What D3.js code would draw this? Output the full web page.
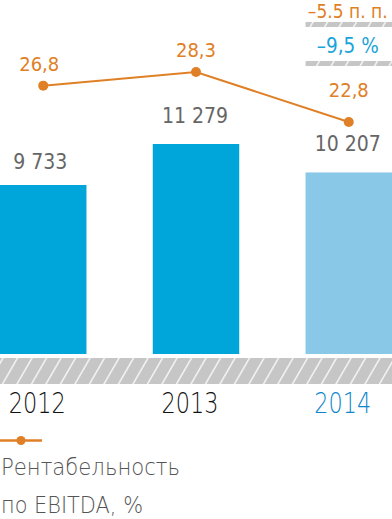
<!DOCTYPE html>
<html>
<head>
<meta charset="utf-8">
<script src="https://cdn.jsdelivr.net/npm/d3@7"></script>
<style>
  html, body { margin: 0; padding: 0; background: #fff; }
  svg { display: block; }
</style>
</head>
<body>
<div id="chart"></div>
<script>
// ---- data ----
const years = ["2012", "2013", "2014"];
const ebitda = [9733, 11279, 10207];
const ebitdaLabels = ["9 733", "11 279", "10 207"];
const margin = [26.8, 28.3, 22.8];
const marginLabels = ["26,8", "28,3", "22,8"];
const changeLabels = ["–5.5 п. п.", "–9,5 %"];
const legendLines = ["Рентабельность", "по EBITDA, %"];

// ---- styles ----
const W = 392, H = 519;
const FONT = "'DejaVu Sans Condensed', 'DejaVu Sans', sans-serif";
const THIN = "'DejaVu Sans', sans-serif";
const ORANGE = "#E08026";
const BLUE = "#00A6DA";
const LIGHTBLUE = "#8AC8E8";
const BLUE_TEXT = "#0E86CC";
const GRAY_TEXT = "#666666";
const HATCH = "#C6C6C6";

const svg = d3.select("#chart").append("svg")
  .attr("width", W).attr("height", H);

// hatch pattern
const defs = svg.append("defs");
const pat = defs.append("pattern")
  .attr("id", "hatch")
  .attr("patternUnits", "userSpaceOnUse")
  .attr("width", 14.5).attr("height", 30)
  .attr("patternTransform", "skewX(-30)");
pat.append("rect").attr("width", 14.5).attr("height", 30).attr("fill", HATCH);
pat.append("rect").attr("x", 6).attr("width", 1.4).attr("height", 30).attr("fill", "#ffffff");

// scales
const x = d3.scaleBand().domain(years).range([0, W]).paddingInner(0.434).paddingOuter(0);
const y = d3.scaleLinear().domain([3361, 11279]).range([354, 144]);
const yLine = d3.scaleLinear().domain([22.8, 28.3]).range([122, 72]);
const cx = d => x(d) + x.bandwidth() / 2;

// bars
svg.append("g").selectAll("rect")
  .data(years)
  .join("rect")
  .attr("x", d => x(d))
  .attr("width", x.bandwidth())
  .attr("y", (d, i) => y(ebitda[i]))
  .attr("height", (d, i) => y(3361) - y(ebitda[i]))
  .attr("fill", (d, i) => i === years.length - 1 ? LIGHTBLUE : BLUE);

// bar value labels
svg.append("g").selectAll("text")
  .data(years)
  .join("text")
  .attr("x", (d, i) => cx(d) - (i === 0 ? 3 : 1))
  .attr("y", (d, i) => y(ebitda[i]) - (i === 0 ? 16 : 21))
  .attr("text-anchor", "middle")
  .attr("font-family", FONT)
  .attr("font-size", 21)
  .attr("fill", GRAY_TEXT)
  .text((d, i) => ebitdaLabels[i]);

// hatched baseline band
svg.append("rect")
  .attr("x", 0).attr("y", 358).attr("width", W).attr("height", 26)
  .attr("fill", "url(#hatch)");

// year labels
svg.append("g").selectAll("text")
  .data(years)
  .join("text")
  .attr("x", d => cx(d) - 6)
  .attr("y", 413)
  .attr("text-anchor", "middle")
  .attr("font-family", THIN)
  .attr("font-size", 29)
  .attr("font-weight", 200)
  .attr("textLength", 57)
  .attr("lengthAdjust", "spacingAndGlyphs")
  .attr("fill", (d, i) => i === years.length - 1 ? BLUE_TEXT : "#111111")
  .text(d => d);

// line
const line = d3.line()
  .x((d, i) => cx(years[i]))
  .y(d => yLine(d));
svg.append("path")
  .datum(margin)
  .attr("d", line)
  .attr("fill", "none")
  .attr("stroke", ORANGE)
  .attr("stroke-width", 2);
svg.append("g").selectAll("circle")
  .data(margin)
  .join("circle")
  .attr("cx", (d, i) => cx(years[i]))
  .attr("cy", d => yLine(d))
  .attr("r", 5)
  .attr("fill", ORANGE);
svg.append("g").selectAll("text")
  .data(margin)
  .join("text")
  .attr("x", (d, i) => cx(years[i]) - (i === 0 ? 4 : 0))
  .attr("y", (d, i) => yLine(d) - (i === margin.length - 1 ? 25 : 15))
  .attr("text-anchor", "middle")
  .attr("font-family", FONT)
  .attr("font-size", 20)
  .attr("fill", ORANGE)
  .text((d, i) => marginLabels[i]);

// change indicators (top right, above 2014)
const last = years[years.length - 1];
const chg = svg.append("g");
chg.append("text")
  .attr("x", cx(last) - 1).attr("y", 18)
  .attr("text-anchor", "middle")
  .attr("font-family", FONT).attr("font-size", 19)
  .attr("fill", ORANGE)
  .text(changeLabels[0]);
chg.append("rect")
  .attr("x", x(last)).attr("y", 22).attr("width", x.bandwidth()).attr("height", 5)
  .attr("fill", "url(#hatch)");
chg.append("text")
  .attr("x", cx(last) - 1).attr("y", 53)
  .attr("text-anchor", "middle")
  .attr("font-family", FONT).attr("font-size", 20.5)
  .attr("fill", "#1AA3DB")
  .text(changeLabels[1]);
chg.append("rect")
  .attr("x", x(last)).attr("y", 61).attr("width", x.bandwidth()).attr("height", 5)
  .attr("fill", "url(#hatch)");

// legend
const lg = svg.append("g");
lg.append("line")
  .attr("x1", 0).attr("x2", 42).attr("y1", 440.5).attr("y2", 440.5)
  .attr("stroke", ORANGE).attr("stroke-width", 2.5);
lg.append("circle").attr("cx", 21).attr("cy", 440.5).attr("r", 4.5).attr("fill", ORANGE);
lg.selectAll("text.leg")
  .data(legendLines)
  .join("text")
  .attr("class", "leg")
  .attr("x", 1)
  .attr("y", (d, i) => 475 + i * 38)
  .attr("font-family", THIN)
  .attr("font-size", 23)
  .attr("font-weight", 200)
  .attr("textLength", (d, i) => i === 0 ? 179 : 142)
  .attr("lengthAdjust", "spacingAndGlyphs")
  .attr("fill", "#555555")
  .text(d => d);
</script>
</body>
</html>
